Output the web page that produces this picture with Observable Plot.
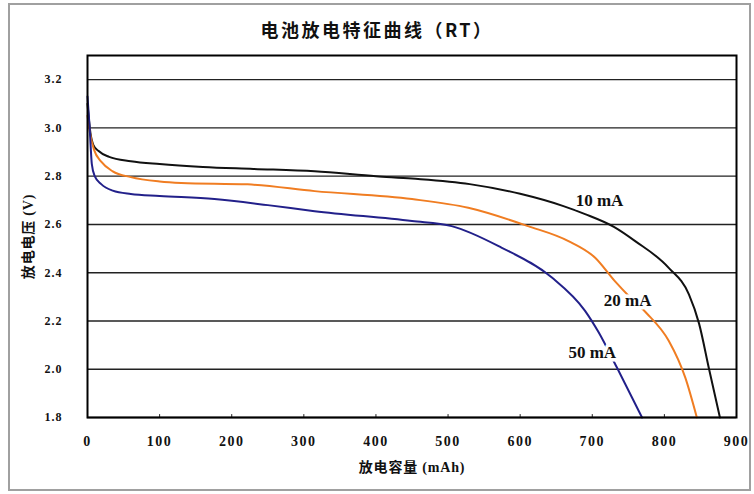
<!DOCTYPE html>
<html>
<head>
<meta charset="utf-8">
<script src="https://cdn.jsdelivr.net/npm/d3@7"></script>
<script src="https://cdn.jsdelivr.net/npm/@observablehq/plot@0.6"></script>
<style>
  html, body { margin: 0; padding: 0; background: #fff; }
  #wrap { position: relative; width: 754px; height: 494px; overflow: hidden; }
  #border { position: absolute; left: 8px; top: 3px; width: 743px; height: 488px; border: 2px solid #a0a0a0; box-sizing: border-box; }
  #title { position: absolute; left: 0; top: 16px; width: 754px; text-align: center; letter-spacing: 2.5px;
           font-family: "Noto Sans CJK SC", sans-serif; font-weight: bold; font-size: 18px; color: #111; }
  #chart { position: absolute; left: 0; top: 48px; }
  #chart g[aria-label="x-axis tick label"] { font-size: 14px !important; letter-spacing: 1.5px; }
  #chart g[aria-label="y-axis tick label"] { font-size: 12px !important; letter-spacing: 1px; }
  #chart g[aria-label="x-axis label"], #chart g[aria-label="y-axis label"] { font-size: 14px !important; letter-spacing: 0.8px; }
</style>
</head>
<body>
<div id="wrap">
  <div id="border"></div>
  <div id="title">电池放电特征曲线（RT）</div>
  <div id="chart"></div>
</div>
<script>
const xTicks = [0, 100, 200, 300, 400, 500, 600, 700, 800, 900];
const yTicks = [1.8, 2.0, 2.2, 2.4, 2.6, 2.8, 3.0, 3.2];

const seriesNames = ["10 mA", "20 mA", "50 mA"];
const seriesColors = ["#111111", "#f07d22", "#22208a"];

const cap10 = [0, 4, 8, 15, 30, 60, 100, 160, 230, 315, 400, 450, 530, 600, 660, 690, 730, 760, 806, 834, 848, 862, 877];
const volt10 = [3.10, 2.98, 2.93, 2.905, 2.88, 2.862, 2.85, 2.838, 2.83, 2.82, 2.80, 2.79, 2.767, 2.727, 2.676, 2.643, 2.59, 2.53, 2.42, 2.31, 2.19, 2.0, 1.8];

const cap20 = [0, 4, 9, 19, 35, 60, 100, 130, 222, 315, 450, 528, 611, 667, 704, 731, 755, 776, 806, 829, 845];
const volt20 = [3.05, 2.97, 2.91, 2.86, 2.82, 2.796, 2.778, 2.772, 2.766, 2.738, 2.705, 2.669, 2.593, 2.531, 2.462, 2.366, 2.29, 2.23, 2.118, 1.965, 1.8];

const cap50 = [0, 3, 6, 10, 19, 35, 60, 100, 176, 250, 315, 450, 505, 574, 644, 690, 709, 734, 769];
const volt50 = [3.13, 3.0, 2.85, 2.80, 2.767, 2.74, 2.726, 2.718, 2.705, 2.68, 2.655, 2.614, 2.593, 2.504, 2.38, 2.242, 2.152, 2.008, 1.8];

const labelCap = [710, 749, 700];
const labelVolt = [2.70, 2.283, 2.069];

const caps = [cap10, cap20, cap50];
const volts = [volt10, volt20, volt50];
const rows = [];
caps.forEach((cs, i) => cs.forEach((c, j) => rows.push({series: seriesNames[i], cap: c, volt: volts[i][j]})));
const labels = seriesNames.map((s, i) => ({series: s, cap: labelCap[i], volt: labelVolt[i]}));

const serif = "'Liberation Serif', 'Noto Sans CJK SC', serif";

const chart = Plot.plot({
  width: 754,
  height: 446,
  marginLeft: 87,
  marginRight: 18,
  marginTop: 7,
  marginBottom: 77,
  style: {fontFamily: serif, fontWeight: "bold", fontSize: "13px", background: "transparent", color: "#111"},
  x: {domain: [0, 900], label: null},
  y: {domain: [1.8, 3.3], label: null},
  color: {domain: seriesNames, range: seriesColors},
  marks: [
    Plot.gridY(yTicks, {stroke: "#222", strokeOpacity: 1, strokeWidth: 1.4}),
    Plot.ruleX(xTicks, {y1: 1.8, y2: 1.812, stroke: "#222"}),
    Plot.axisX({ticks: xTicks, tickSize: 0, tickPadding: 19, tickFormat: d => String(d), label: null}),
    Plot.axisX({ticks: [], label: "放电容量 (mAh)", labelAnchor: "center", labelArrow: "none", labelOffset: 54}),
    Plot.axisY({ticks: yTicks, tickSize: 0, tickPadding: 25, tickFormat: d => d.toFixed(1), label: null}),
    Plot.axisY({ticks: [], label: "放电电压 (V)", labelAnchor: "center", labelArrow: "none", labelOffset: 64}),
    Plot.line(rows, {x: "cap", y: "volt", z: "series", stroke: "series", strokeWidth: 2, curve: "monotone-x"}),
    Plot.text(labels, {x: "cap", y: "volt", text: "series", fill: "#111", stroke: "white", strokeWidth: 7,
      fontSize: 17, fontWeight: "bold", fontFamily: "'Liberation Serif', serif"}),
    Plot.frame({stroke: "#000", strokeWidth: 2})
  ]
});
document.getElementById("chart").appendChild(chart);
</script>
</body>
</html>
